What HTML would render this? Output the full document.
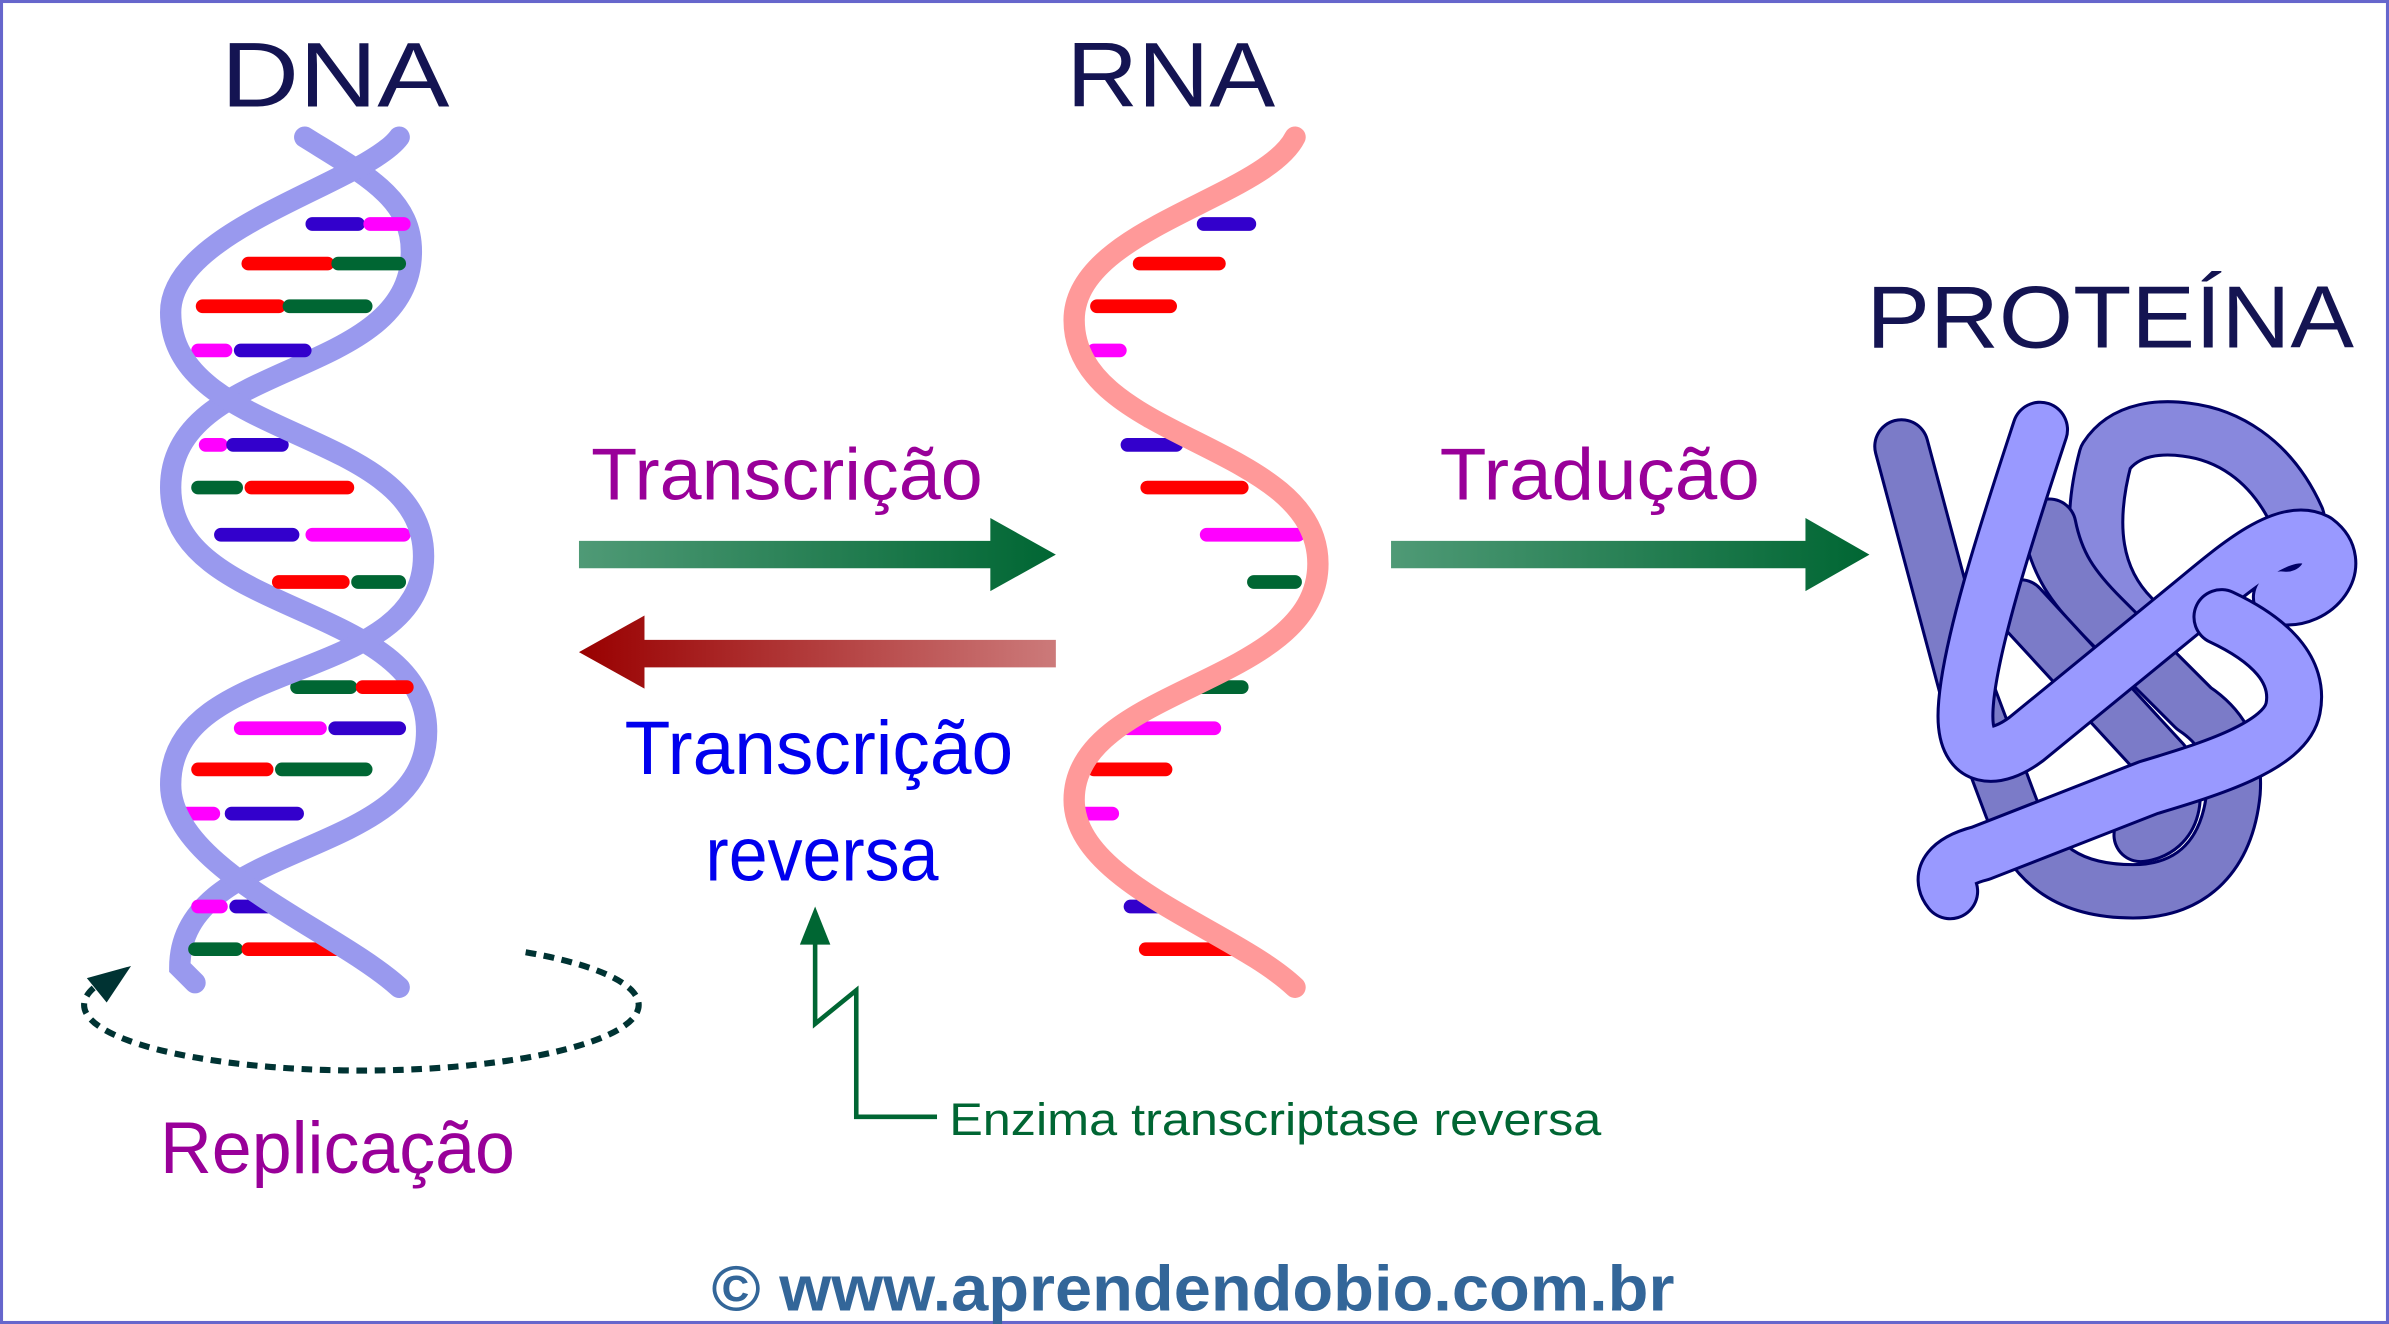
<!DOCTYPE html>
<html><head><meta charset="utf-8"><style>html,body{margin:0;padding:0;background:#fff}svg{display:block}</style></head>
<body>
<svg width="2389" height="1324" viewBox="0 0 1568 869" xmlns="http://www.w3.org/2000/svg" font-family="Liberation Sans, sans-serif">
<defs>
<linearGradient id="g1" x1="0" x2="1" y1="0" y2="0"><stop offset="0" stop-color="#4f9a76"/><stop offset="1" stop-color="#006633"/></linearGradient>
<linearGradient id="g2" x1="0" x2="1" y1="0" y2="0"><stop offset="0" stop-color="#990000"/><stop offset="1" stop-color="#cc7a7a"/></linearGradient>
</defs>
<rect x="1" y="1" width="1566" height="867" fill="#fff" stroke="#6666cc" stroke-width="2"/>

<text x="145" y="70" font-size="60" fill="#141452" textLength="150" lengthAdjust="spacingAndGlyphs">DNA</text>
<text x="700" y="70" font-size="60" fill="#141452" textLength="137" lengthAdjust="spacingAndGlyphs">RNA</text>
<text x="1225" y="228" font-size="58" fill="#141452" textLength="320" lengthAdjust="spacingAndGlyphs">PROTEÍNA</text>

<!-- DNA strand back -->
<path d="M200,90 C240,115 270,130 270,165 C270,250 112,235 112,320 C112,405 280,395 280,480 C280,565 118,550 118,635 L128,645" fill="none" stroke="#9999ee" stroke-width="14" stroke-linecap="round"/>
<g stroke-width="9" stroke-linecap="round">
<line x1="205" y1="147" x2="235" y2="147" stroke="#3300cc"/><line x1="243" y1="147" x2="265" y2="147" stroke="#ff00ff"/>
<line x1="163" y1="173" x2="215" y2="173" stroke="#ff0000"/><line x1="222" y1="173" x2="262" y2="173" stroke="#006633"/>
<line x1="133" y1="201" x2="183" y2="201" stroke="#ff0000"/><line x1="190" y1="201" x2="240" y2="201" stroke="#006633"/>
<line x1="130" y1="230" x2="148" y2="230" stroke="#ff00ff"/><line x1="158" y1="230" x2="200" y2="230" stroke="#3300cc"/>
<line x1="135" y1="292" x2="145" y2="292" stroke="#ff00ff"/><line x1="153" y1="292" x2="185" y2="292" stroke="#3300cc"/>
<line x1="130" y1="320" x2="155" y2="320" stroke="#006633"/><line x1="165" y1="320" x2="228" y2="320" stroke="#ff0000"/>
<line x1="145" y1="351" x2="192" y2="351" stroke="#3300cc"/><line x1="205" y1="351" x2="265" y2="351" stroke="#ff00ff"/>
<line x1="183" y1="382" x2="225" y2="382" stroke="#ff0000"/><line x1="235" y1="382" x2="262" y2="382" stroke="#006633"/>
<line x1="195" y1="451" x2="230" y2="451" stroke="#006633"/><line x1="238" y1="451" x2="267" y2="451" stroke="#ff0000"/>
<line x1="158" y1="478" x2="210" y2="478" stroke="#ff00ff"/><line x1="220" y1="478" x2="262" y2="478" stroke="#3300cc"/>
<line x1="130" y1="505" x2="175" y2="505" stroke="#ff0000"/><line x1="185" y1="505" x2="240" y2="505" stroke="#006633"/>
<line x1="120" y1="534" x2="140" y2="534" stroke="#ff00ff"/><line x1="152" y1="534" x2="195" y2="534" stroke="#3300cc"/>
<line x1="130" y1="595" x2="145" y2="595" stroke="#ff00ff"/><line x1="155" y1="595" x2="180" y2="595" stroke="#3300cc"/>
<line x1="128" y1="623" x2="155" y2="623" stroke="#006633"/><line x1="163" y1="623" x2="225" y2="623" stroke="#ff0000"/>
</g>
<path d="M262,90 C240,120 112,150 112,205 C112,290 278,280 278,365 C278,450 112,430 112,515 C112,570 220,610 262,648" fill="none" stroke="#9999ee" stroke-width="14" stroke-linecap="round"/>

<!-- RNA -->
<g stroke-width="9" stroke-linecap="round">
<line x1="790" y1="147" x2="820" y2="147" stroke="#3300cc"/>
<line x1="748" y1="173" x2="800" y2="173" stroke="#ff0000"/>
<line x1="720" y1="201" x2="768" y2="201" stroke="#ff0000"/>
<line x1="718" y1="230" x2="735" y2="230" stroke="#ff00ff"/>
<line x1="740" y1="292" x2="772" y2="292" stroke="#3300cc"/>
<line x1="753" y1="320" x2="815" y2="320" stroke="#ff0000"/>
<line x1="792" y1="351" x2="852" y2="351" stroke="#ff00ff"/>
<line x1="823" y1="382" x2="850" y2="382" stroke="#006633"/>
<line x1="785" y1="451" x2="815" y2="451" stroke="#006633"/>
<line x1="740" y1="478" x2="797" y2="478" stroke="#ff00ff"/>
<line x1="718" y1="505" x2="765" y2="505" stroke="#ff0000"/>
<line x1="708" y1="534" x2="730" y2="534" stroke="#ff00ff"/>
<line x1="742" y1="595" x2="770" y2="595" stroke="#3300cc"/>
<line x1="752" y1="623" x2="812" y2="623" stroke="#ff0000"/>
</g>
<path d="M850,90 C830,130 705,150 705,210 C705,290 865,290 865,370 C865,450 705,450 705,525 C705,580 810,610 850,648" fill="none" stroke="#ff9999" stroke-width="14" stroke-linecap="round"/>

<!-- arrows -->
<text x="388" y="328" font-size="48" fill="#990099" textLength="257" lengthAdjust="spacingAndGlyphs">Transcrição</text>
<path d="M380,355 H650 V340 L693,364 L650,388 V373 H380 Z" fill="url(#g1)"/>
<path d="M693,420 H423 V404 L380,428 L423,452 V438 H693 Z" fill="url(#g2)"/>
<text x="410" y="508" font-size="50" fill="#0000ee" textLength="255" lengthAdjust="spacingAndGlyphs">Transcrição</text>
<text x="463" y="578" font-size="50" fill="#0000ee" textLength="153" lengthAdjust="spacingAndGlyphs">reversa</text>
<text x="945" y="328" font-size="48" fill="#990099" textLength="210" lengthAdjust="spacingAndGlyphs">Tradução</text>
<path d="M913,355 H1185 V340 L1227,364 L1185,388 V373 H913 Z" fill="url(#g1)"/>

<!-- enzyme -->
<path d="M615,733 H562 V650 L535,672 V612" fill="none" stroke="#006633" stroke-width="3"/>
<path d="M525,620 L535,595 L545,620 Z" fill="#006633"/>
<text x="623" y="745" font-size="30" fill="#006633" textLength="428" lengthAdjust="spacingAndGlyphs">Enzima transcriptase reversa</text>

<!-- replication -->
<path d="M345,625 A182,43 0 1 1 62,648" fill="none" stroke="#003333" stroke-width="4" stroke-dasharray="7,5"/>
<path d="M57,642 L86,634 L70,658 Z" fill="#003333"/>
<text x="105" y="770" font-size="48" fill="#990099" textLength="233" lengthAdjust="spacingAndGlyphs">Replicação</text>

<!-- protein -->
<g fill="none" stroke-linecap="round" stroke-linejoin="round">
<path d="M1400,405 C1375,380 1370,345 1382,300 C1395,280 1420,280 1435,282 C1460,285 1490,300 1508,340" stroke="#000066" stroke-width="37"/>
<path d="M1400,405 C1375,380 1370,345 1382,300 C1395,280 1420,280 1435,282 C1460,285 1490,300 1508,340" stroke="#8888dd" stroke-width="33"/>
<path d="M1248,293 L1290,450 L1320,530 C1335,570 1360,585 1400,585 C1440,585 1462,560 1466,520 C1468,490 1455,475 1440,465 L1380,405 C1360,385 1350,370 1345,345" stroke="#000066" stroke-width="37"/>
<path d="M1248,293 L1290,450 L1320,530 C1335,570 1360,585 1400,585 C1440,585 1462,560 1466,520 C1468,490 1455,475 1440,465 L1380,405 C1360,385 1350,370 1345,345" stroke="#7b7bc8" stroke-width="33"/>
<path d="M1326,398 L1420,500 C1432,520 1428,545 1405,548" stroke="#000066" stroke-width="37"/>
<path d="M1326,398 L1420,500 C1432,520 1428,545 1405,548" stroke="#7b7bc8" stroke-width="33"/>
<path d="M1339,282 C1320,340 1290,430 1290,470 C1290,500 1310,500 1330,485 L1440,395 C1470,370 1500,345 1520,355 C1540,370 1520,395 1497,392" stroke="#000066" stroke-width="38"/>
<path d="M1339,282 C1320,340 1290,430 1290,470 C1290,500 1310,500 1330,485 L1440,395 C1470,370 1500,345 1520,355 C1540,370 1520,395 1497,392" stroke="#9999ff" stroke-width="34"/>
<path d="M1458,405 C1490,420 1510,440 1505,465 C1500,490 1450,505 1410,517 L1300,560 C1280,565 1272,575 1280,585" stroke="#000066" stroke-width="38"/>
<path d="M1458,405 C1490,420 1510,440 1505,465 C1500,490 1450,505 1410,517 L1300,560 C1280,565 1272,575 1280,585" stroke="#9999ff" stroke-width="34"/>
</g>

<text x="783" y="860" font-size="42" font-weight="bold" fill="#336699" text-anchor="middle" textLength="632" lengthAdjust="spacingAndGlyphs">© www.aprendendobio.com.br</text>
</svg>
</body></html>
